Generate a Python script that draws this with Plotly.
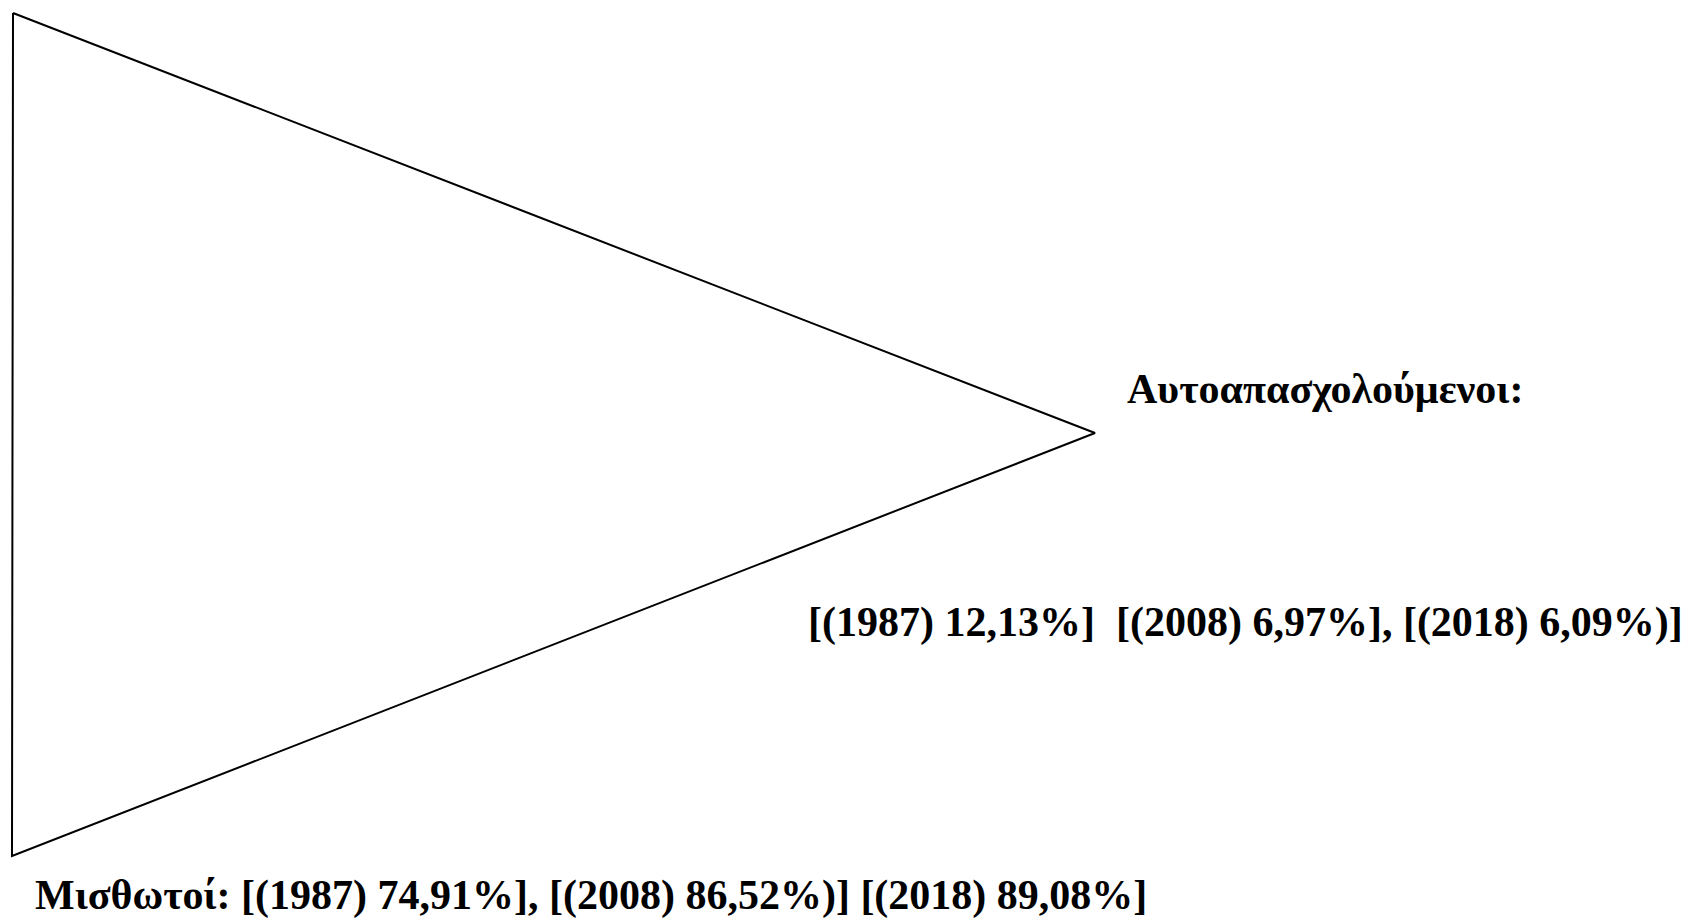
import plotly.graph_objects as go

# triangle vertices (diagram units = pixels of the original)
tri_x = [13, 1095, 12, 13]
tri_y = [13, 433, 856, 13]

label_self = "Αυτοαπασχολούμενοι:"
label_self_vals = "[(1987) 12,13%]  [(2008) 6,97%], [(2018) 6,09%)]"
label_paid = "Μισθωτοί: [(1987) 74,91%], [(2008) 86,52%)] [(2018) 89,08%]"

W, H = 1688, 920

fig = go.Figure()
fig.add_trace(go.Scatter(x=tri_x, y=tri_y, mode="lines",
                         line=dict(color="black", width=2),
                         hoverinfo="skip", showlegend=False))

font = dict(family="Liberation Serif, Times New Roman, serif", size=42,
            color="black", weight="bold")
for txt, x, y in [(label_self, 1125, 389),
                  (label_self_vals, 806, 622),
                  (label_paid, 33, 895)]:
    fig.add_annotation(x=x, y=y, text=txt, showarrow=False,
                       xanchor="left", yanchor="middle", font=font)

fig.update_xaxes(range=[0, W], visible=False, fixedrange=True)
fig.update_yaxes(range=[H, 0], visible=False, fixedrange=True)
fig.update_layout(width=W, height=H, margin=dict(l=0, r=0, t=0, b=0),
                  plot_bgcolor="white", paper_bgcolor="white")

# drop the page's default body margin so the figure fills the window
fig.write_html("out.html", config={"displayModeBar": False},
               post_script="document.body.style.margin='0';")
